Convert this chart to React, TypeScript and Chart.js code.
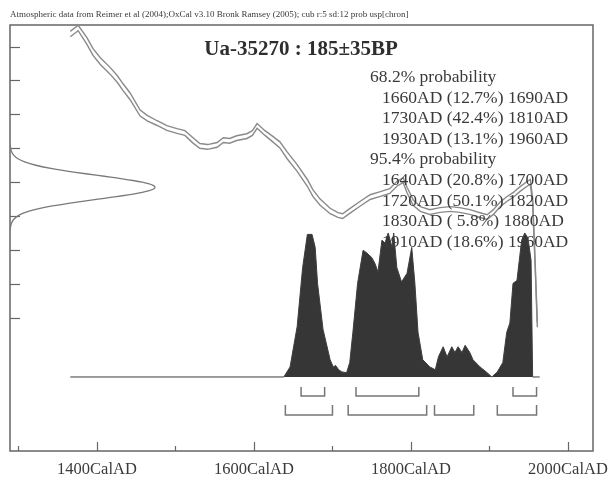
import React, { useEffect, useRef } from "react";
import { Chart, registerables } from "chart.js";

Chart.register(...registerables);

// ---------- text ----------
const headerNote =
  "Atmospheric data from Reimer et al (2004);OxCal v3.10 Bronk Ramsey (2005); cub r:5 sd:12 prob usp[chron]";
const sampleTitle = "Ua-35270 : 185±35BP";
const level68Label = "68.2% probability";
const level95Label = "95.4% probability";

// ---------- calibrated ranges ----------
const ranges68: number[][] = [
  [1660, 1690],
  [1730, 1810],
  [1930, 1960],
];
const pct68 = ["12.7", "42.4", "13.1"];
const ranges95: number[][] = [
  [1640, 1700],
  [1720, 1820],
  [1830, 1880],
  [1910, 1960],
];
const pct95 = ["20.8", "50.1", " 5.8", "18.6"];

// ---------- axes ----------
const xTickValues = [1300, 1400, 1500, 1600, 1700, 1800, 1900, 2000];
const xLabelValues = [1400, 1600, 1800, 2000];
const yTickValues = [-200, -100, 0, 100, 200, 300, 400, 500, 600];

// ---------- calibration curve (cal AD, BP, band half width BP) ----------
const curveYears = [
  1366, 1376, 1387, 1395, 1404, 1417, 1426, 1433, 1442, 1455, 1464, 1476, 1489, 1502,
  1512, 1522, 1531, 1541, 1553, 1561, 1569, 1578, 1591, 1598, 1604, 1614, 1624, 1633,
  1642, 1655, 1668, 1675, 1684, 1697, 1707, 1713, 1722, 1735, 1748, 1761, 1773, 1782,
  1790, 1795, 1803, 1812, 1824, 1837, 1850, 1862, 1875, 1888, 1897, 1905, 1913, 1922,
  1930, 1939, 1948, 1952, 1955, 1958, 1961,
];
const curveBP = [
  637, 655, 617, 584, 558, 528, 504, 481, 454, 404, 389, 375, 360, 351,
  345, 324, 307, 304, 310, 324, 322, 330, 336, 345, 366, 345, 327, 310,
  280, 242, 198, 168, 142, 115, 103, 100, 115, 136, 156, 165, 174, 195,
  206, 177, 139, 121, 112, 118, 121, 118, 112, 103, 97, 112, 133, 150,
  162, 180, 195, 201, 147, -30, -221,
];
const curveSigma = [
  8, 8, 10, 10, 10, 10, 10, 10, 10, 9, 8, 7, 7, 7,
  7, 8, 7, 7, 7, 7, 7, 7, 7, 7, 7, 7, 8, 9,
  10, 10, 10, 10, 9, 8, 7, 7, 7, 7, 7, 7, 7, 7,
  7, 8, 8, 7, 7, 7, 7, 7, 7, 7, 7, 7, 7, 7,
  7, 7, 7, 7, 7, 7, 7,
];

// ---------- radiocarbon measurement (BP, relative density) ----------
const gaussBP = [
  60, 70, 80, 90, 100, 110, 120, 130, 140, 150, 155, 160, 165, 170, 175, 180, 185,
  190, 195, 200, 205, 210, 215, 220, 230, 240, 250, 260, 270, 280, 290, 300, 310,
];
const gaussDensity = [
  0.0017, 0.0045, 0.011, 0.025, 0.052, 0.101, 0.178, 0.291, 0.438, 0.607, 0.693, 0.775,
  0.849, 0.912, 0.96, 0.99, 1.0, 0.99, 0.96, 0.912, 0.849, 0.775, 0.693, 0.607, 0.438,
  0.291, 0.178, 0.101, 0.052, 0.025, 0.011, 0.0045, 0.0017,
];

// ---------- calibrated probability distribution ----------
const probYears = [
  1366, 1638, 1646, 1655, 1662, 1668, 1674, 1678, 1681, 1688, 1697, 1701, 1704, 1708,
  1712, 1718, 1722, 1726, 1732, 1739, 1744, 1750, 1754, 1758, 1763, 1767, 1771, 1776,
  1778, 1782, 1788, 1795, 1801, 1805, 1809, 1815, 1824, 1831, 1835, 1841, 1846, 1852,
  1856, 1860, 1865, 1869, 1875, 1879, 1888, 1897, 1903, 1910, 1917, 1922, 1926, 1930,
  1935, 1938, 1941, 1945, 1949, 1953, 1955, 1964,
];
const probValues = [
  0, 0, 0.07, 0.35, 0.76, 0.99, 0.99, 0.9, 0.65, 0.33, 0.12, 0.07, 0.08, 0.05,
  0.035, 0.03, 0.1, 0.31, 0.65, 0.88, 0.86, 0.83, 0.79, 0.73, 0.95, 0.93, 1.0, 0.9,
  1.0, 0.76, 0.66, 0.72, 0.9, 0.65, 0.31, 0.12, 0.07, 0.05, 0.14, 0.21, 0.14, 0.21,
  0.17, 0.21, 0.17, 0.22, 0.17, 0.12, 0.07, 0.03, 0.0, 0.035, 0.1, 0.31, 0.375, 0.65,
  0.67, 0.81, 0.95, 1.0, 0.965, 0.81, 0, 0,
];

// ---------- layout / style ----------
const SERIF = '"Liberation Serif", "Times New Roman", Times, serif';
const ROW68_TOP = -0.069;
const ROW68_BOTTOM = -0.132;
const ROW95_TOP = -0.194;
const ROW95_BOTTOM = -0.264;

function bracketData(ranges: number[][], top: number, bottom: number) {
  const pts: { x: number; y: number | null }[] = [];
  ranges.forEach(([a, b]) => {
    pts.push({ x: a, y: top }, { x: a, y: bottom }, { x: b, y: bottom }, { x: b, y: top });
    pts.push({ x: b, y: null });
  });
  return pts;
}

const oxcalPlugin = {
  id: "oxcalDecor",
  beforeDatasetsDraw(chart: any) {
    const { ctx, chartArea } = chart;
    const xs = chart.scales.x;
    const ys = chart.scales.y;
    ctx.save();
    ctx.strokeStyle = "#666666";
    ctx.lineWidth = 1.5;
    ctx.strokeRect(chartArea.left, chartArea.top, chartArea.right - chartArea.left, chartArea.bottom - chartArea.top);
    ctx.lineWidth = 1.2;
    xTickValues.forEach((v) => {
      const px = Math.round(xs.getPixelForValue(v)) + 0.5;
      const len = xLabelValues.includes(v) ? 9 : 5;
      ctx.beginPath();
      ctx.moveTo(px, chartArea.bottom);
      ctx.lineTo(px, chartArea.bottom - len);
      ctx.stroke();
    });
    yTickValues.forEach((v) => {
      const py = Math.round(ys.getPixelForValue(v)) + 0.5;
      ctx.beginPath();
      ctx.moveTo(chartArea.left, py);
      ctx.lineTo(chartArea.left + 10, py);
      ctx.stroke();
    });
    ctx.restore();
  },
  afterDatasetsDraw(chart: any) {
    const { ctx, chartArea } = chart;
    const xs = chart.scales.x;
    ctx.save();
    ctx.fillStyle = "#3a3a3a";
    ctx.textBaseline = "alphabetic";
    // header note
    ctx.font = `9px ${SERIF}`;
    ctx.textAlign = "left";
    ctx.fillText(headerNote, 10, 17);
    // title
    ctx.font = `bold 21px ${SERIF}`;
    ctx.textAlign = "center";
    ctx.fillStyle = "#2e2e2e";
    ctx.fillText(sampleTitle, 301, 55);
    // x labels
    ctx.font = `16.5px ${SERIF}`;
    ctx.fillStyle = "#3a3a3a";
    xLabelValues.forEach((v) => {
      ctx.fillText(`${v}CalAD`, xs.getPixelForValue(v), chartArea.bottom + 23);
    });
    // range list
    ctx.textAlign = "left";
    ctx.font = `17.5px ${SERIF}`;
    const lines: [string, number][] = [];
    lines.push([level68Label, 370]);
    ranges68.forEach((r, i) => lines.push([`${r[0]}AD (${pct68[i]}%) ${r[1]}AD`, 382]));
    lines.push([level95Label, 370]);
    ranges95.forEach((r, i) => lines.push([`${r[0]}AD (${pct95[i]}%) ${r[1]}AD`, 382]));
    lines.forEach(([t, x], i) => ctx.fillText(t, x, 82 + i * 20.6));
    ctx.restore();
  },
};

export default function App() {
  const canvasRef = useRef<HTMLCanvasElement | null>(null);

  useEffect(() => {
    document.body.style.margin = "0";
    const canvas = canvasRef.current;
    if (!canvas) return;
    const upper = curveYears.map((yr, i) => ({ x: yr, y: curveBP[i] + curveSigma[i] }));
    const lower = curveYears.map((yr, i) => ({ x: yr, y: curveBP[i] - curveSigma[i] }));
    const gauss = gaussBP.map((bp, i) => ({ x: gaussDensity[i], y: bp }));
    const prob = probYears.map((yr, i) => ({ x: yr, y: probValues[i] }));

    const chart = new Chart(canvas, {
      type: "line",
      data: {
        datasets: [
          {
            data: prob,
            xAxisID: "x",
            yAxisID: "yp",
            borderColor: "#3d3d3d",
            backgroundColor: "#363636",
            borderWidth: 1,
            fill: "origin",
            tension: 0,
            pointRadius: 0,
          },
          {
            data: bracketData(ranges68, ROW68_TOP, ROW68_BOTTOM),
            xAxisID: "x",
            yAxisID: "yp",
            borderColor: "#767676",
            borderWidth: 1.5,
            fill: false,
            spanGaps: false,
            pointRadius: 0,
          },
          {
            data: bracketData(ranges95, ROW95_TOP, ROW95_BOTTOM),
            xAxisID: "x",
            yAxisID: "yp",
            borderColor: "#767676",
            borderWidth: 1.5,
            fill: false,
            spanGaps: false,
            pointRadius: 0,
          },
          {
            data: gauss,
            xAxisID: "xd",
            yAxisID: "y",
            borderColor: "#7a7a7a",
            borderWidth: 1.3,
            fill: false,
            tension: 0.3,
            pointRadius: 0,
          },
          {
            data: upper,
            xAxisID: "x",
            yAxisID: "y",
            borderColor: "#8a8a8a",
            borderWidth: 1.4,
            fill: false,
            tension: 0,
            pointRadius: 0,
          },
          {
            data: lower,
            xAxisID: "x",
            yAxisID: "y",
            borderColor: "#8a8a8a",
            borderWidth: 1.4,
            fill: false,
            tension: 0,
            pointRadius: 0,
          },
        ],
      },
      options: {
        responsive: false,
        animation: false,
        devicePixelRatio: 1,
        layout: { padding: { left: 10, right: 18, top: 25, bottom: 30 } },
        plugins: {
          legend: { display: false },
          tooltip: { enabled: false },
          title: { display: false },
        },
        scales: {
          x: { type: "linear", min: 1289.2, max: 2031.9, display: false },
          xd: { type: "linear", min: 0, max: 4.02, display: false },
          y: { type: "linear", min: -592.9, max: 663.7, display: false },
          yp: { type: "linear", min: -0.514, max: 2.444, display: false },
        },
        elements: { point: { radius: 0 } },
      },
      plugins: [oxcalPlugin],
    } as any);
    return () => chart.destroy();
  }, []);

  return (
    <div style={{ position: "fixed", left: 0, top: 0, width: 611, height: 481, background: "#fff" }}>
      <canvas ref={canvasRef} width={611} height={481} style={{ display: "block" }} />
    </div>
  );
}
